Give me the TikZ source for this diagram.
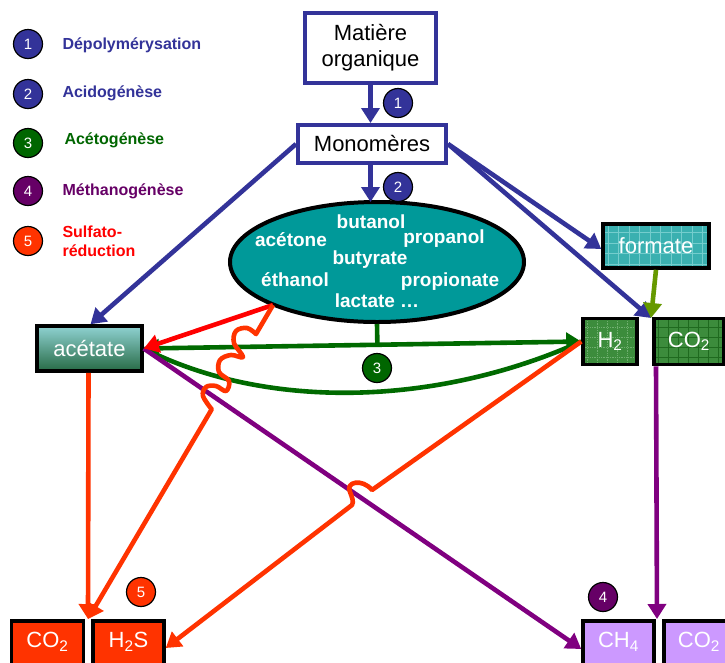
\documentclass[tikz,border=0pt]{standalone}
\usepackage{fontspec}
\setmainfont{Liberation Sans}
\usetikzlibrary{arrows.meta,shapes.geometric}
\definecolor{cblue}{HTML}{333399}
\definecolor{cgreen}{HTML}{006600}
\definecolor{cgreenline}{HTML}{006A00}
\definecolor{cpurple}{HTML}{660066}
\definecolor{cpurpleline}{HTML}{800080}
\definecolor{corange}{HTML}{FF3300}
\definecolor{cred}{HTML}{FF0000}
\definecolor{cyg}{HTML}{669900}
\definecolor{cteal}{HTML}{009999}
\definecolor{cform}{HTML}{3AB0B0}
\definecolor{cformgrid}{HTML}{74CDCD}
\definecolor{cgbox}{HTML}{3C8C3C}
\definecolor{cggrid}{HTML}{1F6A1F}
\definecolor{cggridlight}{HTML}{6FAF6F}
\definecolor{clav}{HTML}{CC99FF}
\definecolor{ctop}{HTML}{8FD2D2}
\definecolor{cbot}{HTML}{276A45}
\tikzset{
  legendtxt/.style={anchor=west,font=\fontsize{16}{19}\selectfont\bfseries,align=left},
  badge/.style={circle,draw=black,line width=1.2pt,minimum size=29pt,inner sep=0pt,text=white,font=\fontsize{15}{15}\selectfont},
  blueframe/.style={draw=cblue,line width=4pt,fill=white,inner sep=0pt,font=\fontsize{22}{26}\selectfont,align=center},
  blackbox/.style={draw=black,line width=3.5pt,inner sep=0pt,text=white,font=\fontsize{22}{26}\selectfont},
  mixtxt/.style={text=white,font=\fontsize{19}{19}\selectfont\bfseries},
  tip/.style={-{Triangle[length=15pt,width=18pt]}},
  conn/.style={line width=4.6pt},
  gridform/.style={path picture={\draw[cformgrid,line width=0.8pt] ([shift={(-3pt,-3pt)}]path picture bounding box.south west) grid[step=10.5pt] (path picture bounding box.north east);}},
  gridgreen/.style={path picture={\draw[cggrid,line width=0.8pt] ([shift={(-2pt,-2pt)}]path picture bounding box.south west) grid[step=10pt] (path picture bounding box.north east);}},
  gridgreenlight/.style={path picture={\draw[cggridlight,line width=0.8pt,densely dotted] ([shift={(-2pt,-2pt)}]path picture bounding box.south west) grid[step=10pt] (path picture bounding box.north east);}}
}
\begin{document}
\begin{tikzpicture}[x=1pt,y=-1pt]
\clip (0,0) rectangle (725,662);
\fill[white] (0,0) rectangle (725,662);

% legend
\node[badge,fill=cblue] (b1l) at (28,44) {1};
\node[badge,fill=cblue] (b2l) at (28,94) {2};
\node[badge,fill=cgreen] (b3l) at (28,143) {3};
\node[badge,fill=cpurple] (b4l) at (28,191) {4};
\node[badge,fill=corange] (b5l) at (28,241) {5};
\node[legendtxt,text=cblue] (l1) at (59,45) {Dépolymérysation};
\node[legendtxt,text=cblue] (l2) at (59,93) {Acidogénèse};
\node[legendtxt,text=cgreen] (l3) at (61,140) {Acétogénèse};
\node[legendtxt,text=cpurple] (l4) at (59,191) {Méthanogénèse};
\node[legendtxt,text=cred] (l5) at (59,241) {Sulfato-\\réduction};

% main boxes
\node[blueframe,minimum width=131pt,minimum height=70pt] (mat) at (370.5,48) {Matière\\organique};
\node[blueframe,minimum width=148pt,minimum height=38pt] (mono) at (372,144) {Monomères};
\node[ellipse,draw=black,line width=4pt,fill=cteal,minimum width=294pt,minimum height=120pt] (mix) at (377,262) {};
\node[mixtxt] (t1) at (371,222) {butanol};
\node[mixtxt] (t2) at (291,240) {acétone};
\node[mixtxt] (t3) at (444,239) {propanol};
\node[mixtxt] (t4) at (370,260) {butyrate};
\node[mixtxt] (t5) at (295,280) {éthanol};
\node[mixtxt] (t6) at (450,282) {propionate};
\node[mixtxt] (t7) at (377,301) {lactate …};

\node[blackbox,top color=ctop,bottom color=cbot,minimum width=105pt,minimum height=45pt] (acet) at (89.5,348.5) {acétate};
\node[blackbox,fill=cform,gridform,minimum width=106pt,minimum height=44pt] (form) at (656,246) {formate};
\node[blackbox,fill=cgbox,gridgreenlight,minimum width=54pt,minimum height=46pt] (h2) at (610,341.5) {H\textsubscript{2}};
\node[blackbox,fill=cgbox,gridgreen,minimum width=70pt,minimum height=46pt] (co2r) at (689,341.5) {CO\textsubscript{2}};
\node[blackbox,fill=corange,minimum width=72pt,minimum height=48pt] (co2b) at (47.5,645) {};
\node[text=white,font=\fontsize{22}{26}\selectfont] (co2bt) at (47.5,642) {CO\textsubscript{2}};
\node[blackbox,fill=corange,minimum width=71pt,minimum height=48pt] (h2s) at (128.5,645) {};
\node[text=white,font=\fontsize{22}{26}\selectfont] (h2st) at (128.5,642) {H\textsubscript{2}S};
\node[blackbox,fill=clav,minimum width=71pt,minimum height=48pt] (ch4) at (618.5,645) {};
\node[text=white,font=\fontsize{22}{26}\selectfont] (ch4t) at (618.5,642) {CH\textsubscript{4}};
\node[blackbox,fill=clav,minimum width=70pt,minimum height=48pt] (co2p) at (699,645) {};
\node[text=white,font=\fontsize{22}{26}\selectfont] (co2pt) at (699,642) {CO\textsubscript{2}};

% free-end coordinates
\coordinate (gapH) at (651,318);
\coordinate (gapB) at (88,619);
\coordinate (gapP) at (657,619);
\coordinate (mixL) at (273,305);
\coordinate (hop1) at (372,490);
\coordinate (hop2) at (352,505);
\coordinate (a1) at ([xshift=-1pt]acet.south);
\coordinate (co2rb) at ([xshift=-33pt]co2r.south);

% blue arrows
\draw[conn,cblue,tip] (mat.south) -- (mat.south |- mono.north);
\draw[conn,cblue,tip] (mat.south |- mono.south) -- ([yshift=-2pt]mat.south |- mix.north);
\draw[conn,cblue,tip] (mono.west) -- ([xshift=1pt]acet.north);
\draw[conn,cblue,tip] (mono.east) -- ([yshift=-3pt]form.west);
\draw[conn,cblue,tip] (mono.east) -- (gapH);
\draw[conn,cyg,tip] (form.south) -- (gapH);

% green acetogenesis
\path (acet.east) -- (h2.west) coordinate[pos=0.534] (gjoin);
\draw[conn,cgreenline] (mix.south) -- (gjoin);
\draw[conn,cgreenline,{Triangle[length=15pt,width=18pt]}-{Triangle[length=15pt,width=18pt]}] (acet.east) -- (h2.west);
\draw[conn,cgreenline] (acet.east) .. controls (270,412) and (440,405) .. (h2.west);

% purple methanogenesis
\draw[conn,cpurpleline,tip] (acet.east) -- ([yshift=-4pt]ch4.west);
\draw[conn,cpurpleline,tip] (co2rb) -- (gapP);

% red / orange sulfate reduction
\draw[conn,cred,tip] (mixL) -- (acet.east);
\draw[conn,corange,tip] (a1) -- (gapB);
\draw[conn,corange,tip,line join=round] (mixL) -- plot[smooth,tension=0.6] coordinates {(256,334) (247,328) (236,331) (234,343) (243,357) (231,355) (220,360) (219,372) (229,381) (226,391) (216,386) (206,387) (203,396) (211.7,409.3)} -- (gapB);
\draw[conn,corange,tip,line join=round] (h2.west) -- (hop1) .. controls (362,478) and (345,482) .. (350,492) .. controls (352,497) and (354,502) .. (hop2) -- ([yshift=-3pt]h2s.east);

% step badges
\node[badge,fill=cblue] (b1) at (398,103) {1};
\node[badge,fill=cblue] (b2) at (398,187) {2};
\node[badge,fill=cgreen] (b3) at (377,368) {3};
\node[badge,fill=cpurple] (b4) at (603,597) {4};
\node[badge,fill=corange] (b5) at (141,592) {5};
\end{tikzpicture}
\end{document}
